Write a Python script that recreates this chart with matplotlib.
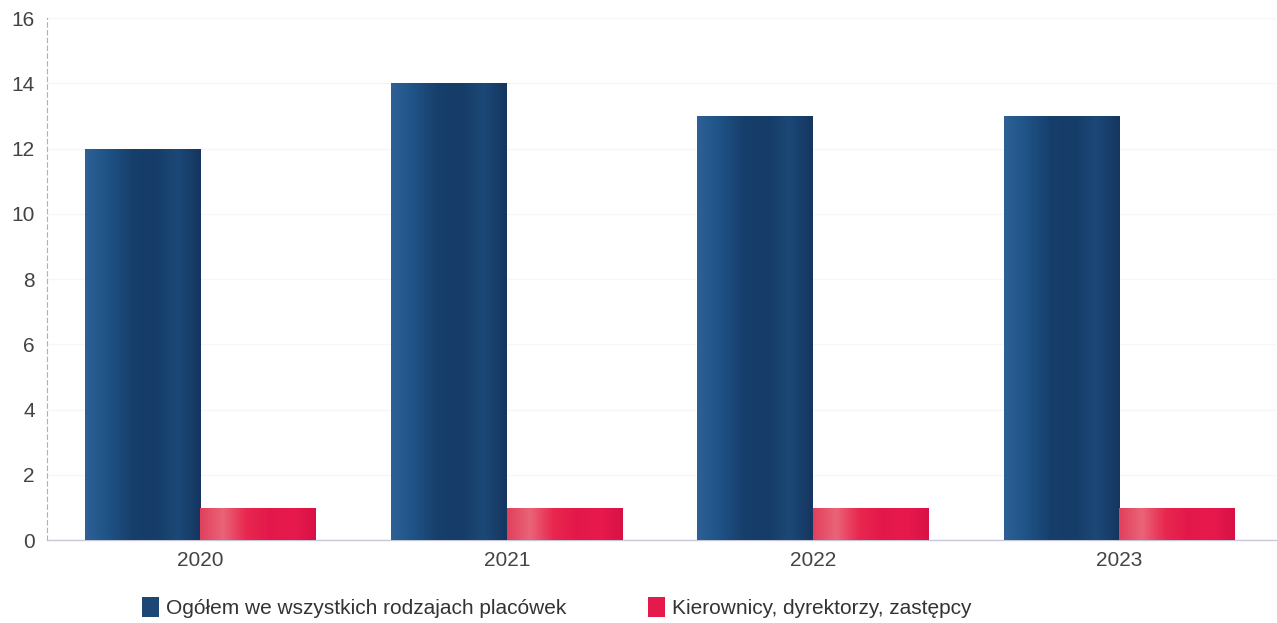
import numpy as np
import matplotlib.pyplot as plt
from matplotlib.colors import LinearSegmentedColormap

plt.rcParams["font.family"] = ["Liberation Sans", "DejaVu Sans"]

# --- Data ---
years = ["2020", "2021", "2022", "2023"]
total = [12, 14, 13, 13]
managers = [1, 1, 1, 1]
labels = ["Ogółem we wszystkich rodzajach placówek", "Kierownicy, dyrektorzy, zastępcy"]

blue_cmap = LinearSegmentedColormap.from_list(
    "cyl_blue", ["#2d6196", "#1f5285", "#173f6c", "#163c68", "#1c4877", "#14365f"])
red_cmap = LinearSegmentedColormap.from_list(
    "cyl_red", ["#e0405c", "#ea6478", "#e8274f", "#e3184a", "#e81a4d", "#d81145"])

fig = plt.figure(figsize=(12.77, 6.23), dpi=100)
ax = fig.add_axes([0.037, 0.133, 0.962, 0.838])

x = np.arange(len(years))
w = 0.378
b1 = ax.bar(x - w / 2, total, w, color="#1b4676", label=labels[0], zorder=2)
b2 = ax.bar(x + w / 2, managers, w, color="#e31a4b", label=labels[1], zorder=2)

# cylinder-like horizontal gradient inside each bar
grad = np.linspace(0, 1, 256).reshape(1, -1)
for bars, cmap in ((b1, blue_cmap), (b2, red_cmap)):
    for r in bars:
        x0, y0 = r.get_x(), r.get_y()
        im = ax.imshow(grad, cmap=cmap, aspect="auto", zorder=3,
                       extent=(x0, x0 + r.get_width(), y0, y0 + r.get_height()))
        im.set_clip_path(r)

ax.set_xlim(-0.5, 3.51)
ax.set_ylim(0, 16)
ax.set_yticks(np.arange(0, 17, 2))
ax.set_xticks(x)
ax.set_xticklabels(years)
ax.tick_params(axis="both", length=0, labelsize=15, labelcolor="#444444")
ax.tick_params(axis="y", pad=9)
ax.tick_params(axis="x", pad=8)

ax.grid(axis="y", color="#f6f6f6", linewidth=1, zorder=0)
for s in ("top", "right"):
    ax.spines[s].set_visible(False)
ax.spines["left"].set_color("#b0b0b0")
ax.spines["left"].set_linestyle((0, (4, 3)))
ax.spines["left"].set_linewidth(0.8)
ax.spines["bottom"].set_color("#c8c8dc")
ax.spines["bottom"].set_linewidth(1)

fig.legend(handles=[b1, b2], labels=labels, loc="lower center",
           bbox_to_anchor=(0.436, -0.022), ncol=2, frameon=False,
           fontsize=15, labelcolor="#333333", handlelength=0.8,
           handleheight=1.1, handletextpad=0.35, columnspacing=3.9)

fig.savefig("out.png", dpi=100, facecolor="white")
